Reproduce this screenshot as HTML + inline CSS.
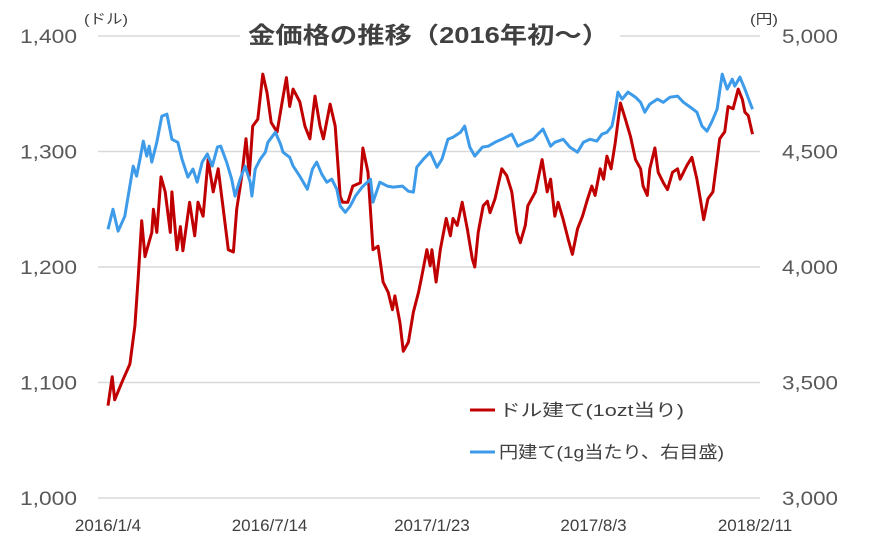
<!DOCTYPE html>
<html><head><meta charset="utf-8"><style>
body{margin:0;background:#fff;}
svg{display:block;font-family:"Liberation Sans","Noto Sans CJK JP",sans-serif;}
</style></head><body>
<svg id="chart" width="870" height="553" viewBox="0 0 870 553">
<g id="grid"></g><g id="axes"></g><g id="series"></g>
<rect x="240" y="20" width="380" height="32" fill="#fff"/>
<text x="248" y="43" font-size="23" font-weight="bold" fill="#404040" textLength="361" lengthAdjust="spacingAndGlyphs">金価格の推移（2016年初〜）</text>
<text x="84" y="24" font-size="14" fill="#404040" textLength="44" lengthAdjust="spacingAndGlyphs">(ドル)</text>
<text x="750" y="24" font-size="14" fill="#404040" textLength="28" lengthAdjust="spacingAndGlyphs">(円)</text>
<g>
<line x1="470" y1="410" x2="495" y2="410" stroke="#c00000" stroke-width="3"/>
<text x="499" y="416" font-size="17" fill="#404040" textLength="185" lengthAdjust="spacingAndGlyphs">ドル建て(1ozt当り)</text>
<line x1="470" y1="452" x2="495" y2="452" stroke="#3d9be9" stroke-width="3"/>
<text x="499" y="458" font-size="17" fill="#404040" textLength="225" lengthAdjust="spacingAndGlyphs">円建て(1g当たり、右目盛)</text>
</g>
</svg>
<script>
const xTickDays=[0,192,385,577,769];
const xTickLabels=["2016/1/4","2016/7/14","2017/1/23","2017/8/3","2018/2/11"];
const leftTicks=[1000,1100,1200,1300,1400];
const leftTickLabels=["1,000","1,100","1,200","1,300","1,400"];
const rightTicks=[3000,3500,4000,4500,5000];
const rightTickLabels=["3,000","3,500","4,000","4,500","5,000"];
const usdDays=[0,5,8,17,26,32,36,40,44,52,54,58,63,68,74,76,82,86,89,97,103,107,113,119,125,131,137,143,149,153,159,164,168,172,178,184,189,194,201,207,212,216,220,228,234,240,246,252,256,264,270,276,279,285,291,300,303,309,315,321,327,333,338,341,347,351,357,363,369,373,379,383,385,390,395,402,407,410,415,421,427,433,436,440,446,451,454,460,468,474,480,486,490,496,499,508,516,522,526,531,535,541,547,552,558,564,570,575,579,585,589,593,598,603,609,615,621,627,633,636,641,644,650,654,660,665,671,677,680,688,694,700,704,708,713,719,724,727,733,737,743,749,754,757,761,766];
const usdValues=[1080,1105,1085,1101,1116,1149,1192,1240,1209,1230,1250,1230,1278,1265,1230,1265,1215,1235,1214,1256,1227,1256,1244,1293,1265,1285,1250,1215,1213,1250,1279,1311,1279,1322,1328,1367,1351,1325,1317,1343,1364,1339,1354,1343,1322,1311,1348,1322,1311,1341,1322,1261,1256,1256,1270,1273,1303,1282,1215,1218,1187,1178,1163,1175,1152,1127,1135,1161,1178,1192,1215,1201,1215,1187,1215,1242,1227,1242,1236,1256,1233,1207,1200,1230,1253,1257,1247,1259,1285,1279,1265,1230,1221,1236,1253,1265,1293,1265,1276,1244,1256,1241,1224,1211,1233,1244,1259,1270,1262,1285,1276,1296,1285,1308,1342,1328,1313,1293,1285,1270,1262,1285,1303,1282,1273,1267,1282,1285,1276,1288,1295,1276,1259,1241,1259,1265,1293,1311,1317,1339,1337,1354,1345,1334,1331,1315];
const jpyDays=[0,6,12,20,30,34,38,42,46,49,52,58,64,70,76,83,88,95,101,106,112,118,124,130,134,141,147,151,157,163,169,171,175,181,187,190,199,205,208,216,220,228,237,243,248,254,260,266,272,276,282,288,294,302,312,315,323,332,339,350,357,363,367,375,383,391,397,404,410,419,424,430,436,445,452,460,468,480,487,496,505,511,517,526,531,541,549,558,565,573,581,587,593,599,603,606,611,618,627,633,638,644,653,660,668,677,684,692,700,706,712,718,724,730,736,742,745,751,757,766];
const jpyValues=[4163,4250,4155,4220,4437,4393,4467,4545,4480,4523,4454,4540,4653,4662,4553,4540,4467,4389,4424,4367,4454,4489,4437,4519,4523,4454,4380,4307,4380,4437,4367,4307,4424,4467,4497,4540,4583,4532,4497,4475,4437,4393,4337,4424,4454,4402,4367,4380,4337,4264,4237,4264,4307,4346,4380,4281,4367,4350,4346,4350,4328,4324,4432,4467,4497,4432,4467,4553,4562,4583,4610,4519,4480,4519,4523,4540,4553,4575,4523,4540,4553,4575,4597,4523,4540,4553,4519,4497,4540,4553,4545,4575,4583,4610,4683,4757,4727,4757,4735,4713,4670,4705,4727,4713,4735,4740,4713,4692,4670,4610,4588,4631,4683,4835,4770,4813,4783,4822,4770,4683];

const NS="http://www.w3.org/2000/svg";
const X0=108,X1=755,D1=769,YT=36,YB=498;
const xS=d=>X0+d/D1*(X1-X0);
const yL=v=>YB-(v-1000)/400*(YB-YT);
const yR=v=>YB-(v-3000)/2000*(YB-YT);
function mk(tag,attrs,parent){const e=document.createElementNS(NS,tag);for(const k in attrs)e.setAttribute(k,attrs[k]);parent.appendChild(e);return e;}
const grid=document.getElementById('grid'),axes=document.getElementById('axes'),ser=document.getElementById('series');
leftTicks.forEach((v,i)=>{
  const l=mk('line',{x1:98,x2:760,y1:yL(v),y2:yL(v),stroke:'#d9d9d9','stroke-width':1.5},grid);
  
  
  const t=mk('text',{x:77,y:yL(v)+7,'text-anchor':'end','font-size':19,fill:'#595959',textLength:57,lengthAdjust:'spacingAndGlyphs'},axes);
  t.textContent=leftTickLabels[i];
  
  
});
rightTicks.forEach((v,i)=>{
  const t=mk('text',{x:782,y:yR(v)+7,'font-size':19,fill:'#595959',textLength:56,lengthAdjust:'spacingAndGlyphs'},axes);
  t.textContent=rightTickLabels[i];
  
  
});
xTickDays.forEach((d,i)=>{
  const t=mk('text',{x:xS(d),y:531,'text-anchor':'middle','font-size':17,fill:'#404040'},axes);
  t.textContent=xTickLabels[i];
  
  
});
function line(days,vals,ys,color,name){
  const pts=days.map((d,i)=>xS(d).toFixed(1)+','+ys(vals[i]).toFixed(1)).join(' ');
  const p=mk('polyline',{points:pts,fill:'none',stroke:color,'stroke-width':3,'stroke-linejoin':'round'},ser);
  
  
}
line(usdDays,usdValues,yL,'#c00000','usd-price-line');
line(jpyDays,jpyValues,yR,'#3d9be9','jpy-price-line');
</script>
</body></html>
